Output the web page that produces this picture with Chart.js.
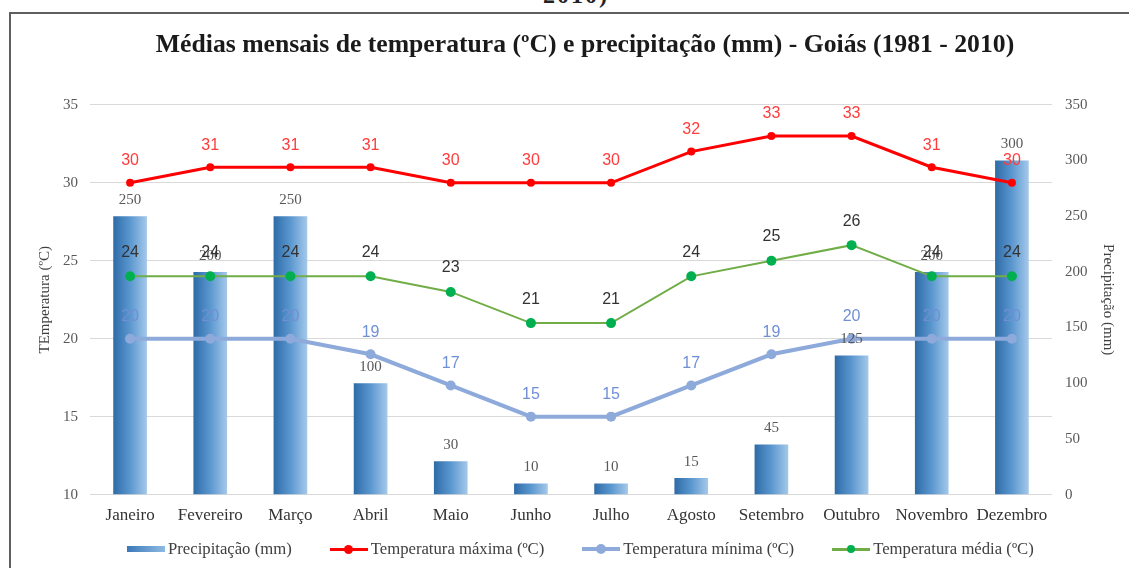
<!DOCTYPE html>
<html>
<head>
<meta charset="utf-8">
<script src="https://cdn.jsdelivr.net/npm/chart.js@4.4.0/dist/chart.umd.min.js"></script>
<style>
  html, body { margin: 0; padding: 0; background: #fff; width: 1129px; height: 568px; overflow: hidden; }
  #cut { position: absolute; left: 0; width: 1152px; top: -18px; text-align: center; font: bold 24px "Liberation Serif", serif; color: #222; letter-spacing: 2px; }
  #frame { position: absolute; left: 9px; top: 12px; width: 1200px; height: 600px; border-top: 2px solid #5f5f5f; border-left: 2px solid #5f5f5f; background: #fff; }
  #wrap { position: absolute; left: 11px; top: 14px; width: 1148px; height: 556px; }
  #legend { position: absolute; left: 127px; top: 539px; height: 20px; display: flex; align-items: center; font: 16.7px "Liberation Serif", serif; color: #404040; white-space: nowrap; }
  #legend .item { display: flex; align-items: center; margin-right: 38px; }
  #legend .mark { position: relative; width: 38px; height: 20px; margin-right: 3px; }
  #legend .mark.bar { height: 6px; background: linear-gradient(to right, #3a78b8, #8fbbe3); }
  #legend .mark.line::before { content: ''; position: absolute; left: 0; right: 0; top: 50%; height: var(--w); margin-top: calc(var(--w) / -2); background: var(--c); }
  #legend .mark.line::after { content: ''; position: absolute; left: 50%; top: 50%; width: var(--d); height: var(--d); margin: calc(var(--d) / -2) 0 0 calc(var(--d) / -2); border-radius: 50%; background: var(--dc); }
</style>
</head>
<body>
<div id="cut">2010)</div>
<div id="frame"></div>
<div id="wrap"><canvas id="chart"></canvas></div>
<div id="legend"></div>
<script>
const months = ['Janeiro', 'Fevereiro', 'Março', 'Abril', 'Maio', 'Junho', 'Julho', 'Agosto', 'Setembro', 'Outubro', 'Novembro', 'Dezembro'];
const precipitation = [250, 200, 250, 100, 30, 10, 10, 15, 45, 125, 200, 300];
const tempMax = [30, 31, 31, 31, 30, 30, 30, 32, 33, 33, 31, 30];
const tempMin = [20, 20, 20, 19, 17, 15, 15, 17, 19, 20, 20, 20];
const tempMean = [24, 24, 24, 24, 23, 21, 21, 24, 25, 26, 24, 24];

const SERIF = '"Liberation Serif", "Times New Roman", serif';
const SANS = '"Liberation Sans", Arial, sans-serif';

const RED = '#ff0000';
const BLUE = '#8eaadb';
const GREEN = '#70ad47';
const GREEN_DOT = '#00b050';

// left dark -> right light blue fill for each bar
function barFill(ctx) {
  const chart = ctx.chart;
  const xs = chart.scales.x;
  if (!xs || ctx.dataIndex === undefined) return '#5b9bd5';
  const cx = xs.getPixelForValue(ctx.dataIndex);
  if (!Number.isFinite(cx)) return '#5b9bd5';
  const half = 17;
  const g = chart.ctx.createLinearGradient(cx - half, 0, cx + half, 0);
  g.addColorStop(0, '#2e6aa6');
  g.addColorStop(0.5, '#5b97cf');
  g.addColorStop(1, '#a5c9ea');
  return g;
}

const valueLabels = {
  id: 'valueLabels',
  afterDatasetsDraw(chart) {
    const ctx = chart.ctx;
    ctx.save();
    ctx.textAlign = 'center';
    ctx.textBaseline = 'middle';
    chart.data.datasets.forEach((ds, di) => {
      const st = ds.labelStyle;
      const meta = chart.getDatasetMeta(di);
      ctx.font = st.font;
      ctx.fillStyle = st.color;
      meta.data.forEach((el, i) => {
        ctx.fillText(String(ds.data[i]), el.x, el.y - st.offset);
      });
    });
    ctx.restore();
  }
};

const chart = new Chart(document.getElementById('chart'), {
  data: {
    labels: months,
    datasets: [
      {
        type: 'bar',
        label: 'Precipitação (mm)',
        data: precipitation,
        yAxisID: 'yP',
        backgroundColor: barFill,
        categoryPercentage: 1,
        barPercentage: 0.42,
        order: 5,
        labelStyle: { font: '15px ' + SERIF, color: '#595959', offset: 16 },
        legendMark: { kind: 'bar' },
      },
      {
        type: 'line',
        label: 'Temperatura máxima (ºC)',
        data: tempMax,
        yAxisID: 'yT',
        borderColor: RED,
        backgroundColor: RED,
        borderWidth: 3,
        pointRadius: 4,
        pointBorderWidth: 0,
        order: 1,
        labelStyle: { font: '16px ' + SANS, color: '#ff3b3b', offset: 22 },
        legendMark: { kind: 'line', w: 3, d: 9, dc: RED },
      },
      {
        type: 'line',
        label: 'Temperatura mínima (ºC)',
        data: tempMin,
        yAxisID: 'yT',
        borderColor: BLUE,
        backgroundColor: BLUE,
        borderWidth: 4,
        pointRadius: 5,
        pointBorderWidth: 0,
        order: 2,
        labelStyle: { font: '16px ' + SANS, color: '#6f8fd6', offset: 22 },
        legendMark: { kind: 'line', w: 4, d: 10, dc: BLUE },
      },
      {
        type: 'line',
        label: 'Temperatura média (ºC)',
        data: tempMean,
        yAxisID: 'yT',
        borderColor: GREEN,
        backgroundColor: GREEN_DOT,
        borderWidth: 2,
        pointRadius: 5,
        pointBorderWidth: 0,
        order: 0,
        labelStyle: { font: '16px ' + SANS, color: '#333333', offset: 24 },
        legendMark: { kind: 'line', w: 3, d: 8, dc: GREEN_DOT },
      },
    ],
  },
  options: {
    responsive: true,
    maintainAspectRatio: false,
    animation: false,
    layout: { padding: { left: 42, right: 42, top: 0, bottom: 41 } },
    plugins: {
      title: {
        display: true,
        text: 'Médias mensais de temperatura (ºC) e precipitação (mm) - Goiás (1981 - 2010)',
        color: '#1a1a1a',
        font: { family: SERIF, size: 25.7, weight: 'bold' },
        padding: { top: 16, bottom: 44 },
      },
      legend: { display: false },
      tooltip: { enabled: false },
    },
    scales: {
      x: {
        grid: { display: false },
        border: { display: false },
        ticks: { color: '#333333', font: { family: SERIF, size: 17 }, padding: 3, maxRotation: 0, autoSkip: false },
      },
      yT: {
        position: 'left',
        min: 10,
        max: 35,
        ticks: { stepSize: 5, color: '#595959', font: { family: SERIF, size: 15 }, padding: 12 },
        grid: { color: '#d9d9d9', drawTicks: false, lineWidth: 1 },
        border: { display: false },
        title: { display: true, text: 'TEmperatura (ºC)', color: '#404040', font: { family: SERIF, size: 15 }, padding: { top: -17, bottom: -3 } },
      },
      yP: {
        position: 'right',
        min: 0,
        max: 350,
        ticks: { stepSize: 50, color: '#595959', font: { family: SERIF, size: 15 }, padding: 13 },
        grid: { display: false, drawTicks: false },
        border: { display: false },
        title: { display: true, text: 'Precipitação (mm)', color: '#404040', font: { family: SERIF, size: 15 }, padding: { top: 0, bottom: -1.5 } },
      },
    },
  },
  plugins: [valueLabels],
});

// legend row built from the chart's datasets
const legendEl = document.getElementById('legend');
chart.data.datasets.forEach((ds) => {
  const item = document.createElement('div');
  item.className = 'item';
  const mark = document.createElement('span');
  const m = ds.legendMark;
  mark.className = 'mark ' + m.kind;
  if (m.kind === 'line') {
    mark.style.setProperty('--c', ds.borderColor);
    mark.style.setProperty('--w', m.w + 'px');
    mark.style.setProperty('--d', m.d + 'px');
    mark.style.setProperty('--dc', m.dc);
  }
  const text = document.createElement('span');
  text.textContent = ds.label;
  item.appendChild(mark);
  item.appendChild(text);
  legendEl.appendChild(item);
});
</script>
</body>
</html>
